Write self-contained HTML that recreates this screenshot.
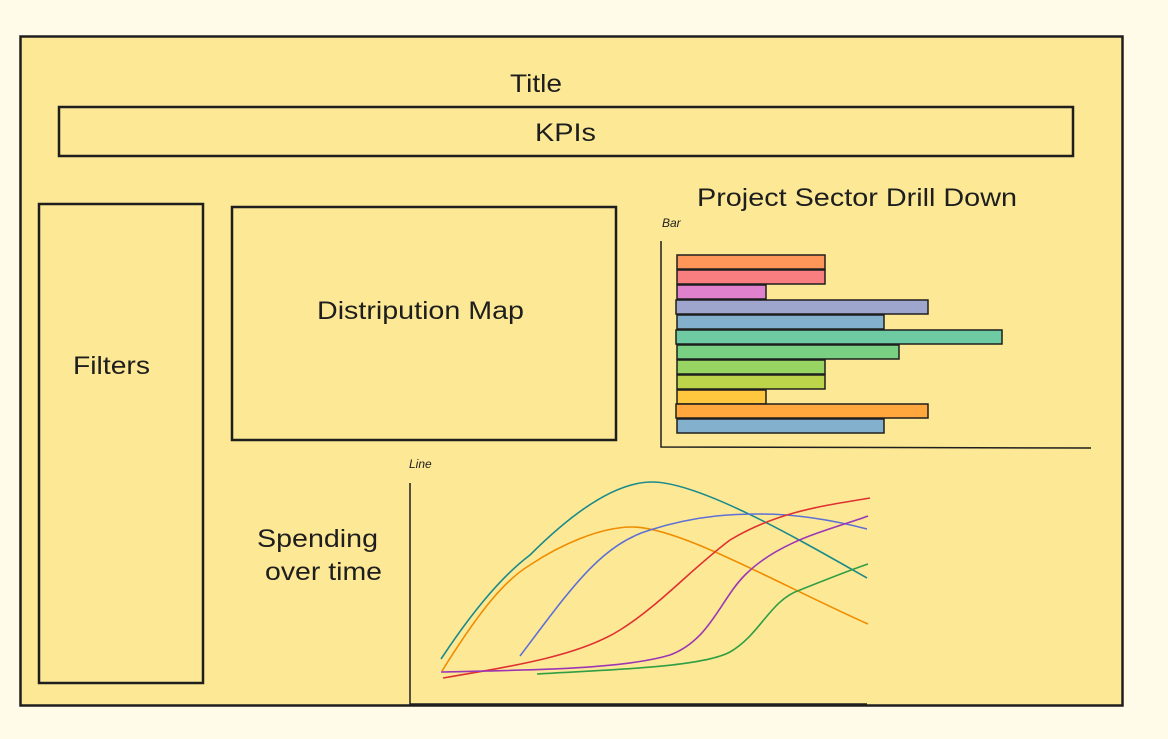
<!DOCTYPE html>
<html><head><meta charset="utf-8"><style>
html,body{margin:0;padding:0;background:#fffbe8;}
svg{display:block;}
text{font-family:"Liberation Sans",sans-serif;fill:#1e1e1e;}
</style></head><body>
<svg width="1168" height="739" viewBox="0 0 1168 739" xmlns="http://www.w3.org/2000/svg">
<rect x="0" y="0" width="1168" height="739" fill="#fffbe8"/>
<g stroke="#1e1e1e" stroke-width="2.5" fill="#fde995">
<rect x="20.5" y="36.5" width="1102" height="669"/>
<rect x="59" y="107" width="1014" height="49"/>
<rect x="39" y="204" width="164" height="479"/>
<rect x="232" y="207" width="384" height="233"/>
</g>
<g font-size="25">
<text x="510" y="92" textLength="52" lengthAdjust="spacingAndGlyphs">Title</text>
<text x="535" y="141" textLength="61" lengthAdjust="spacingAndGlyphs">KPIs</text>
<text x="73" y="374" textLength="77" lengthAdjust="spacingAndGlyphs">Filters</text>
<text x="317" y="319" textLength="207" lengthAdjust="spacingAndGlyphs">Distripution Map</text>
<text x="697" y="206" textLength="320" lengthAdjust="spacingAndGlyphs">Project Sector Drill Down</text>
<text x="257" y="547" textLength="121" lengthAdjust="spacingAndGlyphs">Spending</text>
<text x="265" y="580" textLength="117" lengthAdjust="spacingAndGlyphs">over time</text>
</g>
<text x="662" y="227" font-size="12" font-style="italic">Bar</text>
<text x="409" y="468" font-size="12" font-style="italic">Line</text>
<g stroke="#1e1e1e" stroke-width="1.5" fill="none">
<path d="M661 241 L661 447 L1091 448"/>
<path d="M410 483 L410 704 L867 704"/>
</g>
<g stroke="#1e1e1e" stroke-width="1.5" fill-opacity="0.75">
<rect x="677" y="255" width="148" height="14" fill="#ff7a45"/>
<rect x="677" y="270" width="148" height="14" fill="#f65a78"/>
<rect x="677" y="285" width="89" height="14" fill="#d65ee0"/>
<rect x="676" y="300" width="252" height="14" fill="#7f8fe0"/>
<rect x="677" y="315" width="207" height="14" fill="#5a9ee0"/>
<rect x="676" y="330" width="326" height="14" fill="#3cbfa8"/>
<rect x="677" y="345" width="222" height="14" fill="#4cc57c"/>
<rect x="677" y="360" width="148" height="14" fill="#74cc50"/>
<rect x="677" y="375" width="148" height="14" fill="#a4cc30"/>
<rect x="677" y="390" width="89" height="14" fill="#ffbb20"/>
<rect x="676" y="404" width="252" height="14" fill="#ff9020"/>
<rect x="677" y="419" width="207" height="14" fill="#5a9ee0"/>
</g>
<g fill="none" stroke-width="1.6">
<path d="M441 659 C480 600 510 570 530 555 C580 505 620 482 652 482 C700 482 800 540 867 578" stroke="#1a8a8a"/>
<path d="M442 671 C480 610 505 580 530 565 C560 545 600 527 632 527 C680 527 780 585 868 624" stroke="#f08c00"/>
<path d="M520 656 C570 590 600 545 650 530 C700 514 740 514 760 514 C800 514 840 522 867 529" stroke="#5c70d6"/>
<path d="M443 678 C520 665 580 655 620 630 C660 605 690 570 730 540 C780 510 830 505 870 498" stroke="#e03131"/>
<path d="M441 672 C520 670 620 670 670 655 C710 640 720 600 745 575 C780 540 830 530 868 516" stroke="#9c36b5"/>
<path d="M537 674 C600 670 700 668 730 652 C760 635 770 600 800 590 C830 578 850 570 868 564" stroke="#2f9e44"/>
</g>
</svg>
</body></html>
